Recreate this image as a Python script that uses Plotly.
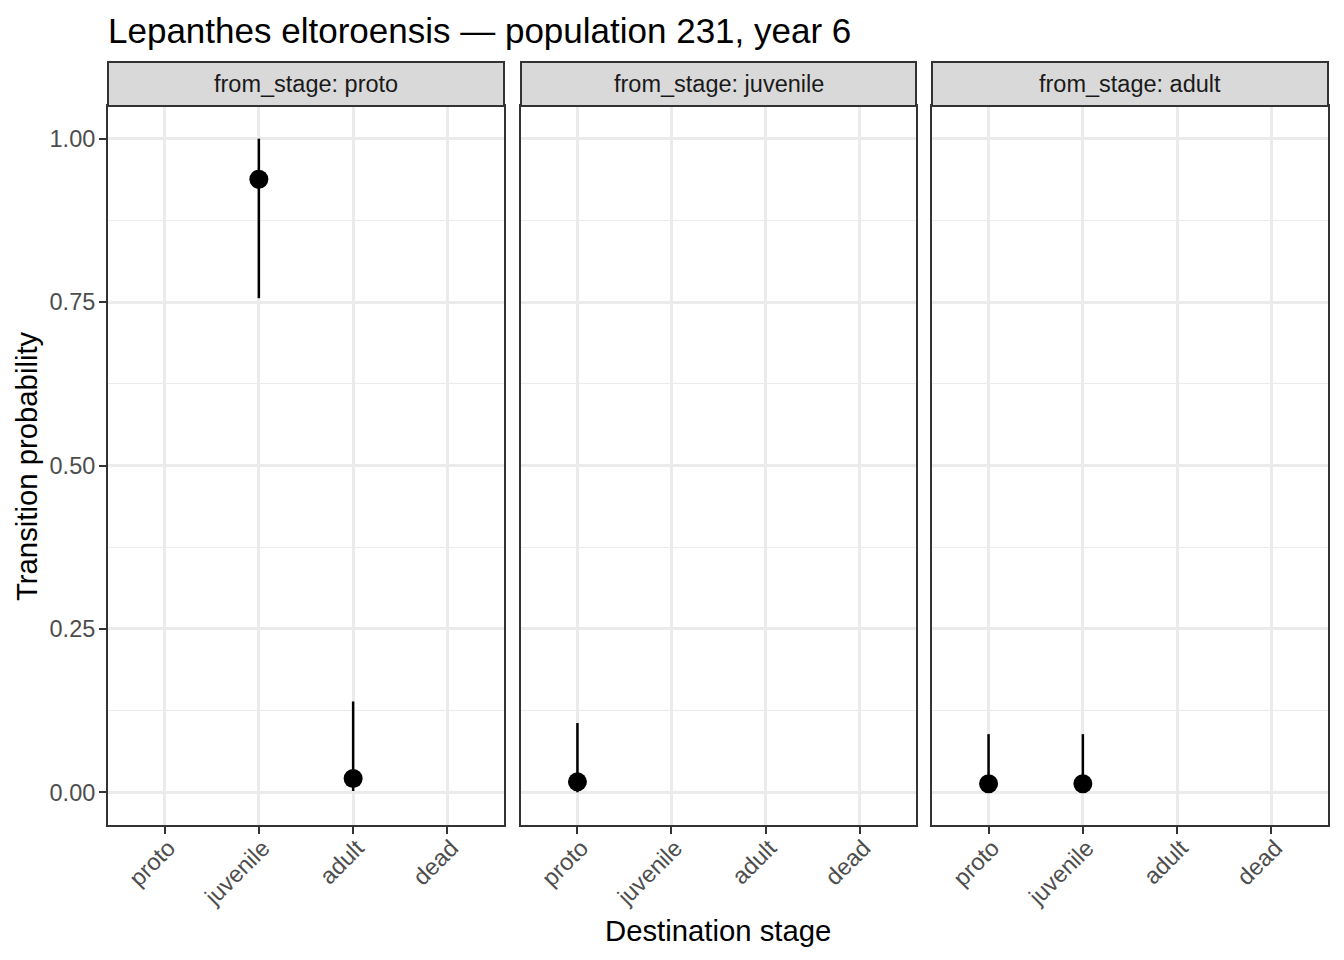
import plotly.graph_objects as go

# ---- data ----
panels = ["proto", "juvenile", "adult"]
stages = ["proto", "juvenile", "adult", "dead"]
from_stage = ["proto", "proto", "juvenile", "adult", "adult"]
to_stage = ["juvenile", "adult", "proto", "proto", "juvenile"]
estimate = [0.938, 0.021, 0.016, 0.013, 0.013]
lower = [0.756, 0.002, 0.000, 0.000, 0.000]
upper = [1.000, 0.139, 0.106, 0.089, 0.089]
y_ticks = [0.0, 0.25, 0.5, 0.75, 1.0]
y_tick_text = ["0.00", "0.25", "0.50", "0.75", "1.00"]

# page body has an 8px margin; figure is sized/positioned to compensate
OFF = 8
W, H = 1344 - OFF, 960 - OFF
FONT = "Liberation Sans, Arial, sans-serif"


def fx(px):
    return (px - OFF) / W


def fy(py):
    return (H - (py - OFF)) / H


# panel pixel layout (window coordinates)
px_x = [(108, 504), (521, 916), (932, 1328)]
py_top, py_bot = 106, 825
strip_top = 62

fig = go.Figure()

for i, p in enumerate(panels):
    sfx = "" if i == 0 else str(i + 1)
    xs, ys, ep, em = [], [], [], []
    for f, t, e, lo, up in zip(from_stage, to_stage, estimate, lower, upper):
        if f == p:
            xs.append(t)
            ys.append(e)
            ep.append(up - e)
            em.append(e - lo)
    fig.add_trace(go.Scatter(
        x=xs, y=ys, mode="markers",
        marker=dict(color="black", size=19, line=dict(width=0)),
        error_y=dict(type="data", array=ep, arrayminus=em, symmetric=False,
                     width=0, thickness=2.5, color="black"),
        xaxis="x" + sfx, yaxis="y" + sfx, showlegend=False,
    ))
    x0, x1 = px_x[i]
    fig.layout["xaxis" + sfx] = dict(
        domain=[fx(x0), fx(x1)], anchor="y" + sfx, type="category",
        categoryorder="array", categoryarray=stages,
        tickmode="array", tickvals=stages, ticktext=stages,
        range=[-0.6, 3.6], showgrid=True, gridcolor="#EBEBEB", gridwidth=2.8,
        showline=True, mirror=True, linecolor="#333333", linewidth=2,
        ticks="outside", ticklen=7, tickwidth=2.2, tickcolor="#333333",
        tickangle=-45, tickfont=dict(family=FONT, size=23.5, color="#4D4D4D"),
        ticklabelstandoff=-9, ticklabelshift=4,
        zeroline=False, fixedrange=True,
    )
    fig.layout["yaxis" + sfx] = dict(
        domain=[fy(py_bot), fy(py_top)], anchor="x" + sfx, range=[-0.05, 1.05],
        tickmode="array", tickvals=y_ticks, ticktext=y_tick_text,
        showgrid=True, gridcolor="#EBEBEB", gridwidth=2.8,
        minor=dict(tickmode="array", tickvals=[0.125, 0.375, 0.625, 0.875],
                   showgrid=True, gridcolor="#EBEBEB", gridwidth=1.4, ticks=""),
        showline=True, mirror=True, linecolor="#333333", linewidth=2,
        ticks="outside" if i == 0 else "", ticklen=7, tickwidth=2.2, tickcolor="#333333",
        showticklabels=(i == 0), ticklabelstandoff=-1,
        tickfont=dict(family=FONT, size=23.5, color="#4D4D4D"),
        zeroline=False, fixedrange=True,
    )
    # facet strip
    fig.add_shape(type="rect", xref="paper", yref="paper",
                  x0=fx(x0), x1=fx(x1), y0=fy(py_top), y1=fy(strip_top),
                  fillcolor="#D9D9D9", line=dict(color="#333333", width=2), layer="above")
    fig.add_annotation(xref="paper", yref="paper", x=fx((x0 + x1) / 2),
                       y=fy((strip_top + py_top) / 2),
                       text="from_stage: " + p, showarrow=False,
                       xanchor="center", yanchor="middle",
                       font=dict(family=FONT, size=23.5, color="#1A1A1A"))

# titles
fig.add_annotation(xref="paper", yref="paper", x=fx(106), y=fy(30),
                   text="Lepanthes eltoroensis — population 231, year 6",
                   showarrow=False, xanchor="left", yanchor="middle",
                   font=dict(family=FONT, size=35, color="black"))
fig.add_annotation(xref="paper", yref="paper", x=fx(718), y=fy(930),
                   text="Destination stage", showarrow=False,
                   xanchor="center", yanchor="middle",
                   font=dict(family=FONT, size=29.3, color="black"))
fig.add_annotation(xref="paper", yref="paper", x=fx(27), y=fy(466),
                   text="Transition probability", showarrow=False, textangle=-90,
                   xanchor="center", yanchor="middle",
                   font=dict(family=FONT, size=29.3, color="black"))

fig.update_layout(
    width=W, height=H, autosize=False,
    margin=dict(l=0, r=0, t=0, b=0),
    paper_bgcolor="white", plot_bgcolor="white",
    font=dict(family=FONT),
)

fig.write_html("out.html")
